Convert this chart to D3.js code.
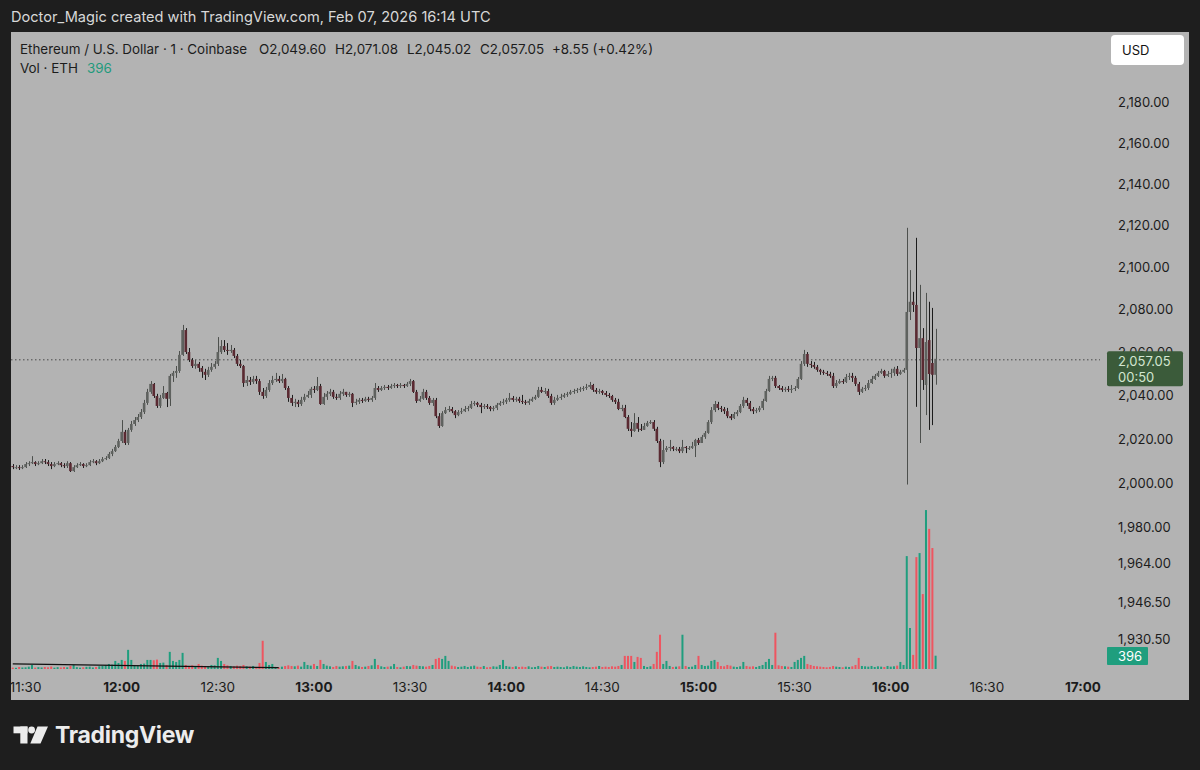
<!DOCTYPE html>
<html><head><meta charset="utf-8">
<script src="https://cdn.jsdelivr.net/npm/d3@7"></script>
<style>html,body{margin:0;padding:0;background:#1e1e1e;} svg{display:block;}</style>
</head><body><svg id="c" width="1200" height="770"></svg>
<script>
// ---------------- DATA ----------------
const startTime = "2026-02-07T11:26:00Z"; // first 1-minute candle
const opens = [
2007.7,2007.2,2007.2,2006.8,2007.2,2008.6,2009.0,2009.5,2008.6,2009.0,
2009.9,2009.5,2008.6,2007.7,2008.6,2009.0,2008.1,2007.7,2009.0,2005.4,
2007.2,2008.1,2008.6,2007.7,2008.1,2009.5,2009.9,2009.0,2009.9,2010.9,
2011.3,2013.2,2014.5,2016.4,2019.1,2023.3,2018.2,2024.2,2026.9,2028.7,
2030.1,2032.4,2036.6,2041.7,2045.4,2039.8,2035.2,2038.9,2041.2,2038.5,
2049.1,2050.5,2051.4,2058.9,2070.5,2060.2,2056.5,2053.7,2054.7,2052.8,
2051.0,2049.6,2051.9,2053.3,2054.7,2060.2,2063.0,2061.2,2060.7,2061.2,
2058.4,2054.7,2053.7,2045.8,2047.2,2046.3,2047.7,2046.7,2041.7,2039.8,
2042.6,2045.8,2047.2,2047.7,2046.7,2047.7,2043.5,2038.9,2036.6,2037.1,
2036.1,2038.0,2039.4,2040.3,2043.1,2042.6,2044.4,2036.1,2039.4,2040.8,
2041.7,2039.4,2038.9,2040.8,2041.7,2040.3,2040.8,2036.6,2037.1,2038.0,
2037.5,2038.5,2038.0,2038.9,2043.5,2042.6,2043.5,2044.0,2043.5,2044.4,
2044.9,2044.4,2044.9,2044.4,2045.4,2046.7,2041.7,2037.5,2038.5,2041.7,
2038.9,2036.6,2038.0,2030.5,2026.0,2031.9,2033.3,2033.8,2032.8,2031.0,
2032.4,2032.8,2033.8,2034.3,2036.1,2036.6,2035.7,2034.7,2035.2,2034.7,
2033.8,2034.3,2035.7,2036.6,2037.1,2038.0,2038.9,2038.0,2038.5,2037.5,
2037.1,2036.6,2037.5,2038.5,2039.4,2042.6,2041.7,2042.1,2039.8,2036.6,
2038.0,2038.9,2039.4,2040.3,2040.8,2041.7,2042.1,2042.6,2043.1,2043.5,
2044.0,2044.9,2042.6,2041.7,2042.1,2041.2,2040.3,2039.8,2038.0,2037.1,
2033.8,2034.3,2030.1,2024.7,2023.7,2027.4,2024.7,2024.2,2026.0,2027.4,
2027.8,2024.7,2019.1,2009.5,2015.0,2015.9,2016.4,2015.5,2015.5,2014.5,
2016.4,2015.9,2015.9,2016.8,2019.6,2018.2,2021.0,2022.8,2027.8,2033.3,
2036.1,2034.3,2033.8,2032.8,2030.5,2029.6,2031.5,2032.4,2035.2,2038.0,
2036.6,2033.8,2032.8,2033.3,2034.3,2037.5,2042.1,2047.7,2048.2,2044.4,
2043.5,2042.6,2043.1,2042.6,2043.1,2043.5,2047.7,2054.7,2059.3,2054.7,
2054.2,2053.3,2051.9,2051.0,2050.5,2050.0,2049.1,2044.4,2045.8,2046.7,
2046.3,2048.6,2049.1,2048.2,2045.4,2041.7,2043.1,2043.5,2045.8,2047.7,
2049.1,2050.5,2051.4,2049.1,2050.0,2050.5,2052.4,2050.0,2051.0,2051.9,
2079.0,2083.8,2082.3,2062.1,2066.7,2044.9,2065.8,2055.1,2049.60];
const highs = [
2008.6,2008.1,2008.1,2008.1,2009.5,2009.9,2012.2,2009.9,2009.9,2010.9,
2010.9,2010.4,2009.5,2009.5,2009.9,2009.5,2009.0,2009.9,2009.5,2008.1,
2009.0,2009.5,2009.0,2009.0,2010.4,2010.9,2010.4,2010.9,2011.8,2012.2,
2014.1,2015.5,2017.3,2020.1,2028.7,2024.2,2025.1,2028.3,2030.1,2031.5,
2033.8,2038.0,2043.1,2046.7,2045.8,2040.8,2040.3,2044.4,2041.7,2050.0,
2051.4,2053.7,2060.7,2072.9,2071.4,2062.1,2057.4,2056.5,2055.6,2053.7,
2052.4,2053.3,2055.1,2056.0,2067.2,2065.8,2065.8,2064.4,2063.5,2062.1,
2059.3,2056.5,2054.2,2049.1,2048.6,2049.1,2049.1,2047.7,2043.5,2044.0,
2047.2,2049.1,2050.5,2049.1,2050.0,2048.2,2044.4,2040.3,2038.5,2038.0,
2039.4,2040.8,2042.1,2044.0,2044.4,2048.6,2045.4,2041.2,2042.1,2043.1,
2042.6,2040.8,2042.1,2043.1,2041.7,2041.7,2041.2,2038.5,2038.9,2038.9,
2039.4,2039.4,2039.8,2045.8,2044.4,2044.4,2044.9,2044.9,2045.4,2045.8,
2045.4,2045.8,2045.4,2046.3,2047.7,2047.2,2042.6,2039.8,2043.1,2042.6,
2039.8,2038.9,2038.9,2031.9,2032.8,2034.7,2035.2,2034.7,2033.3,2033.3,
2034.3,2035.2,2035.2,2037.5,2037.5,2037.1,2036.6,2036.1,2036.1,2035.2,
2035.2,2036.6,2037.5,2038.5,2038.9,2041.2,2039.8,2039.4,2039.4,2040.3,
2038.0,2038.5,2039.4,2040.3,2044.0,2044.0,2043.5,2043.1,2040.8,2039.4,
2040.3,2040.8,2041.2,2041.7,2042.6,2043.1,2043.5,2044.0,2044.4,2045.4,
2046.3,2045.4,2043.5,2043.1,2042.6,2042.1,2041.2,2040.3,2038.9,2038.5,
2035.7,2035.7,2031.0,2027.8,2031.9,2030.1,2026.9,2027.4,2028.3,2028.7,
2028.7,2025.6,2020.1,2019.6,2016.8,2019.6,2016.8,2016.4,2016.4,2019.6,
2016.8,2016.8,2018.7,2020.1,2020.5,2021.9,2023.7,2028.7,2034.7,2037.5,
2037.1,2035.2,2034.7,2034.3,2031.5,2032.4,2033.3,2036.1,2039.4,2038.9,
2037.5,2034.7,2034.3,2035.2,2038.5,2043.1,2049.1,2049.1,2049.1,2044.9,
2044.4,2044.0,2044.4,2044.9,2044.4,2048.6,2056.0,2061.2,2060.2,2056.0,
2055.6,2054.2,2052.4,2051.9,2051.4,2051.0,2050.5,2047.2,2047.7,2047.7,
2050.0,2050.5,2050.5,2049.1,2046.3,2044.0,2044.9,2047.2,2049.1,2050.0,
2051.4,2052.4,2051.9,2051.4,2052.4,2053.3,2053.7,2051.9,2052.8,2119.0,
2098.8,2088.5,2114.2,2091.8,2071.4,2088.0,2083.8,2080.9,2071.08];
const lows = [
2006.3,2006.3,2005.9,2006.3,2006.8,2007.7,2008.6,2007.7,2008.1,2008.6,
2008.6,2007.7,2006.3,2007.2,2008.1,2007.2,2006.8,2006.8,2005.0,2005.0,
2006.8,2007.7,2006.8,2007.2,2007.7,2009.0,2008.1,2008.6,2009.5,2010.4,
2010.9,2012.2,2014.1,2015.9,2018.2,2017.3,2017.3,2023.3,2026.0,2027.8,
2029.2,2031.5,2035.7,2040.8,2038.9,2034.3,2034.3,2038.4,2034.7,2035.2,
2046.3,2048.2,2050.5,2058.4,2059.3,2055.6,2052.8,2052.4,2051.0,2048.2,
2047.2,2048.6,2051.0,2052.4,2053.7,2059.3,2060.2,2058.9,2059.8,2057.4,
2053.7,2052.8,2044.0,2044.4,2044.9,2045.4,2045.4,2040.3,2038.5,2038.9,
2041.7,2044.9,2046.3,2045.8,2045.8,2042.6,2037.1,2035.2,2034.7,2034.7,
2035.2,2037.1,2038.9,2038.9,2041.2,2042.1,2035.7,2035.7,2038.0,2039.8,
2038.5,2038.0,2038.0,2039.8,2039.4,2039.4,2034.7,2035.7,2036.1,2036.6,
2037.1,2037.1,2037.1,2038.0,2041.7,2042.1,2042.6,2042.6,2043.1,2043.5,
2043.5,2043.5,2043.5,2044.0,2044.4,2041.2,2036.6,2037.1,2038.0,2038.0,
2035.7,2035.2,2029.6,2025.1,2025.6,2031.5,2032.4,2031.9,2029.6,2030.5,
2031.5,2032.4,2032.8,2033.8,2035.2,2034.7,2031.9,2033.8,2033.8,2032.8,
2032.8,2033.3,2035.2,2035.7,2036.1,2037.1,2037.1,2037.1,2036.6,2036.1,
2035.7,2035.7,2037.1,2038.0,2038.9,2041.2,2040.8,2038.9,2035.7,2035.7,
2037.5,2038.0,2038.9,2039.4,2040.3,2040.8,2041.2,2041.7,2042.1,2042.6,
2043.1,2041.7,2040.8,2040.8,2040.3,2039.4,2038.9,2037.1,2036.1,2033.3,
2032.8,2029.6,2023.7,2021.0,2023.3,2023.3,2023.7,2024.2,2025.6,2026.9,
2023.7,2018.2,2007.2,2008.6,2014.1,2014.5,2014.5,2014.5,2013.6,2013.6,
2013.6,2015.0,2015.5,2011.8,2017.3,2018.2,2020.1,2022.4,2026.9,2032.4,
2033.3,2032.4,2031.5,2029.6,2028.7,2029.2,2030.5,2031.9,2034.3,2035.2,
2032.8,2031.5,2031.9,2032.4,2033.3,2037.1,2041.7,2046.7,2043.5,2042.6,
2041.7,2041.7,2041.7,2041.2,2042.1,2043.1,2047.2,2053.7,2053.3,2052.8,
2052.4,2051.0,2049.6,2049.6,2049.1,2048.2,2043.5,2043.5,2045.4,2045.4,
2045.8,2047.2,2046.3,2044.4,2040.3,2041.2,2042.1,2042.6,2045.4,2047.2,
2048.6,2050.0,2048.2,2048.6,2048.2,2049.1,2049.1,2049.6,2050.5,1999.3,
2075.2,2079.0,2034.8,2018.2,2042.6,2031.0,2024.2,2026.4,2045.02];
const closes = [
2007.2,2007.2,2006.8,2007.2,2008.6,2009.0,2009.5,2008.6,2009.0,2009.9,
2009.5,2008.6,2007.7,2008.6,2009.0,2008.1,2007.7,2009.0,2005.4,2007.2,
2008.1,2008.6,2007.7,2008.1,2009.5,2009.9,2009.0,2009.9,2010.9,2011.3,
2013.2,2014.5,2016.4,2019.1,2023.3,2018.2,2024.2,2026.9,2028.7,2030.1,
2032.4,2036.6,2041.7,2045.4,2039.8,2035.2,2038.9,2041.2,2038.5,2049.1,
2050.5,2051.4,2058.9,2070.5,2060.2,2056.5,2053.7,2054.7,2052.8,2051.0,
2049.6,2051.9,2053.3,2054.7,2060.2,2063.0,2061.2,2060.7,2061.2,2058.4,
2054.7,2053.7,2045.8,2047.2,2046.3,2047.7,2046.7,2041.7,2039.8,2042.6,
2045.8,2047.2,2047.7,2046.7,2047.7,2043.5,2038.9,2036.6,2037.1,2036.1,
2038.0,2039.4,2040.3,2043.1,2042.6,2044.4,2036.1,2039.4,2040.8,2041.7,
2039.4,2038.9,2040.8,2041.7,2040.3,2040.8,2036.6,2037.1,2038.0,2037.5,
2038.5,2038.0,2038.9,2043.5,2042.6,2043.5,2044.0,2043.5,2044.4,2044.9,
2044.4,2044.9,2044.4,2045.4,2046.7,2041.7,2037.5,2038.5,2041.7,2038.9,
2036.6,2038.0,2030.5,2026.0,2031.9,2033.3,2033.8,2032.8,2031.0,2032.4,
2032.8,2033.8,2034.3,2036.1,2036.6,2035.7,2034.7,2035.2,2034.7,2033.8,
2034.3,2035.7,2036.6,2037.1,2038.0,2038.9,2038.0,2038.5,2037.5,2037.1,
2036.6,2037.5,2038.5,2039.4,2042.6,2041.7,2042.1,2039.8,2036.6,2038.0,
2038.9,2039.4,2040.3,2040.8,2041.7,2042.1,2042.6,2043.1,2043.5,2044.0,
2044.9,2042.6,2041.7,2042.1,2041.2,2040.3,2039.8,2038.0,2037.1,2033.8,
2034.3,2030.1,2024.7,2023.7,2027.4,2024.7,2024.2,2026.0,2027.4,2027.8,
2024.7,2019.1,2009.5,2015.0,2015.9,2016.4,2015.5,2015.5,2014.5,2016.4,
2015.9,2015.9,2016.8,2019.6,2018.2,2021.0,2022.8,2027.8,2033.3,2036.1,
2034.3,2033.8,2032.8,2030.5,2029.6,2031.5,2032.4,2035.2,2038.0,2036.6,
2033.8,2032.8,2033.3,2034.3,2037.5,2042.1,2047.7,2048.2,2044.4,2043.5,
2042.6,2043.1,2042.6,2043.1,2043.5,2047.7,2054.7,2059.3,2054.7,2054.2,
2053.3,2051.9,2051.0,2050.5,2050.0,2049.1,2044.4,2045.8,2046.7,2046.3,
2048.6,2049.1,2048.2,2045.4,2041.7,2043.1,2043.5,2045.8,2047.7,2049.1,
2050.5,2051.4,2049.1,2050.0,2050.5,2052.4,2050.0,2051.0,2051.9,2079.0,
2083.8,2082.3,2062.1,2066.7,2047.2,2064.9,2050.0,2049.6,2057.05];
const volumes = [
40,35,60,45,50,70,120,40,55,45,
60,50,75,40,55,45,60,50,90,120,
55,40,50,65,70,45,60,80,90,110,
150,130,240,180,270,240,570,270,120,100,
150,160,270,270,260,280,180,190,120,510,
240,210,270,480,120,90,110,80,150,100,
90,80,120,110,330,240,150,110,90,80,
100,90,120,80,70,90,60,180,840,210,
120,150,60,50,70,90,110,90,80,100,
70,210,120,100,150,90,270,150,100,80,
60,90,70,80,90,100,240,120,80,60,
70,90,110,300,120,80,60,70,80,150,
60,50,70,90,80,120,100,90,80,70,
90,120,300,330,300,390,240,100,80,60,
70,90,60,80,100,70,60,90,50,60,
80,70,120,270,90,70,60,80,60,70,
60,80,50,60,90,70,60,80,90,60,
70,60,50,80,60,90,70,60,80,60,
50,60,70,90,60,70,60,80,70,90,
120,390,390,390,210,360,330,90,60,80,
150,510,1020,150,240,90,60,70,80,1020,
90,60,70,120,390,120,90,100,240,270,
210,90,80,120,100,70,60,80,210,90,
70,80,60,90,120,210,300,120,1080,110,
90,80,70,60,210,270,330,390,150,120,
90,80,70,60,50,60,90,70,60,50,
70,60,80,120,330,90,80,70,90,60,
80,70,60,90,70,80,100,210,120,3360,
1220,420,3330,3450,2230,4730,4170,3600,396];
const lineTimes = ["11:26","11:58","12:49"];      // black line in the volume area
const lineVolumes = [150, 110, 40];
const priceTicks = [2180,2160,2140,2120,2100,2080,2060,2040,2020,2000,1980,1964,1946.5,1930.5];
const timeTicks = ["11:30","12:00","12:30","13:00","13:30","14:00","14:30","15:00","15:30","16:00","16:30","17:00"];
const lastPrice = 2057.05, lastVolume = 396, countdown = "00:50";
const titleText = "Doctor_Magic created with TradingView.com, Feb 07, 2026 16:14 UTC";
const symbolText = "Ethereum / U.S. Dollar · 1 · Coinbase";
const ohlcTexts = ["O2,049.60","H2,071.08","L2,045.02","C2,057.05","+8.55 (+0.42%)"];

// ---------------- CHART ----------------
const FONT = "Inter, 'Noto Sans', sans-serif";
const svg = d3.select("#c");
const day = "2026-02-07T";
const toDate = s => new Date(day + s + ":00Z");
const t0 = new Date(startTime);
const candles = closes.map((c,i)=>({t:new Date(+t0 + i*60000), o:opens[i], h:highs[i], l:lows[i], c, v:volumes[i]}));

const P = {x0:11, y0:32, x1:1189, y1:700, plotR:1100};
const x = d3.scaleUtc().domain([toDate("12:00"), toDate("17:00")]).range([121.7, 1083]);
const y = d3.scaleLog().domain([2000, 2180]).range([483, 102.5]);
const yv = d3.scaleLinear().domain([0, 5000]).range([669, 669-168]);

svg.append("rect").attr("width",1200).attr("height",770).attr("fill","#1e1e1e");
svg.append("text").attr("x",11).attr("y",22).attr("fill","#d8d8d8")
  .style("font-family",FONT).style("font-size","14.6px").text(titleText);
svg.append("rect").attr("x",P.x0).attr("y",P.y0).attr("width",P.x1-P.x0).attr("height",P.y1-P.y0).attr("fill","#b3b3b3");

const defs = svg.append("defs");
defs.append("clipPath").attr("id","plot").append("rect").attr("x",P.x0).attr("y",P.y0).attr("width",P.plotR-P.x0).attr("height",P.y1-P.y0);
defs.append("clipPath").attr("id","panel").append("rect").attr("x",P.x0).attr("y",P.y0).attr("width",P.x1-P.x0).attr("height",P.y1-P.y0);

const plot = svg.append("g").attr("clip-path","url(#plot)");

// volume bars
plot.append("g").selectAll("rect").data(candles).join("rect")
  .attr("x",d=>x(d.t)-1).attr("width",2)
  .attr("y",d=>yv(d.v)).attr("height",d=>yv(0)-yv(d.v))
  .attr("fill",d=>d.c>=d.o?"#1f9e7e":"#ee5560");

// black line in volume area
plot.append("path").datum(lineTimes.map((t,i)=>[toDate(t), lineVolumes[i]]))
  .attr("d", d3.line().x(d=>x(d[0])).y(d=>yv(d[1])))
  .attr("fill","none").attr("stroke","#111").attr("stroke-width",1.2);

// dotted last price line
plot.append("line").attr("x1",P.x0).attr("x2",1107).attr("y1",y(lastPrice)+1).attr("y2",y(lastPrice)+1)
  .attr("stroke","#4a4a4a").attr("stroke-width",1).attr("stroke-dasharray","1.5,2.5");

// candles
const cg = plot.append("g");
cg.selectAll("line").data(candles).join("line")
  .attr("x1",d=>Math.round(x(d.t))+0.5).attr("x2",d=>Math.round(x(d.t))+0.5)
  .attr("y1",d=>y(d.h)).attr("y2",d=>y(d.l))
  .attr("stroke",d=>d.c>=d.o?"#4d504d":"#1c1c1c").attr("stroke-width",1);
cg.selectAll("rect").data(candles).join("rect")
  .attr("x",d=>x(d.t)-1.3).attr("width",2.6)
  .attr("y",d=>Math.min(y(d.o),y(d.c)))
  .attr("height",d=>Math.max(1, Math.abs(y(d.o)-y(d.c))))
  .attr("fill",d=>d.c>=d.o?"#5f625f":"#5a2a32");

// price axis labels (the one under the last-price badge is hidden by it, as in TradingView)
const ly = y(lastPrice);
const pa = svg.append("g");
pa.selectAll("text").data(priceTicks).join("text")
  .attr("x",1118).attr("y",d=>y(d)).attr("dy","0.35em")
  .attr("fill","#1c1c1c").style("font-family",FONT).style("font-size","13px")
  .text(d=>d3.format(",.2f")(d));

// time axis
const ta = svg.append("g").attr("clip-path","url(#panel)");
ta.selectAll("text").data(timeTicks).join("text")
  .attr("x",d=>x(toDate(d))).attr("y",687).attr("dy","0.35em").attr("text-anchor","middle")
  .attr("fill","#1c1c1c").style("font-family",FONT).style("font-size","13.5px")
  .style("font-weight",d=>d.endsWith(":00")?"700":"400").text(d=>d);

// header legend
const hdr = svg.append("text").attr("y",49).attr("dy","0.35em").attr("fill","#1c1c1c")
  .style("font-family",FONT).style("font-size","13.4px");
hdr.append("tspan").attr("x",20).text(symbolText);
const ohlcX = [259,335,407,480,552];
ohlcTexts.forEach((s,i)=>hdr.append("tspan").attr("x",ohlcX[i]).text(s));
const vl = svg.append("text").attr("y",68).attr("dy","0.35em").style("font-family",FONT).style("font-size","13.4px");
vl.append("tspan").attr("x",20).attr("fill","#1c1c1c").text("Vol · ETH");
vl.append("tspan").attr("x",87).attr("fill","#1f9a7c").text(String(lastVolume));

// USD box
svg.append("rect").attr("x",1111).attr("y",35).attr("width",73).attr("height",30).attr("rx",4).attr("fill","#ffffff");
svg.append("text").attr("x",1122).attr("y",50).attr("dy","0.35em").attr("fill","#131313")
  .style("font-family",FONT).style("font-size","13px").text("USD");

// last price label
svg.append("rect").attr("x",1107).attr("y",ly-7.5).attr("width",76).attr("height",35).attr("rx",2).attr("fill","#3b5b3a");
svg.append("text").attr("x",1118).attr("y",ly+3).attr("dy","0.35em").attr("fill","#d3e6d0")
  .style("font-family",FONT).style("font-size","13px").text(d3.format(",.2f")(lastPrice));
svg.append("text").attr("x",1118).attr("y",ly+19).attr("dy","0.35em").attr("fill","#d3e6d0")
  .style("font-family",FONT).style("font-size","13px").text(countdown);

// last volume label
svg.append("rect").attr("x",1107).attr("y",647).attr("width",41).attr("height",18).attr("rx",1).attr("fill","#1f9e7e");
svg.append("text").attr("x",1118).attr("y",656).attr("dy","0.35em").attr("fill","#ffffff")
  .style("font-family",FONT).style("font-size","13px").text(String(lastVolume));

// logo
const lg = svg.append("g").attr("fill","#ececec");
lg.append("rect").attr("x",13.5).attr("y",726.5).attr("width",14).attr("height",6.8);
lg.append("rect").attr("x",20.3).attr("y",726.5).attr("width",7.2).attr("height",17);
lg.append("circle").attr("cx",31.6).attr("cy",730).attr("r",3.4);
lg.append("path").attr("d","M37.5,726.5 L48,726.5 L40.5,743.5 L30.3,743.5 Z");
svg.append("text").attr("x",55).attr("y",743).attr("fill","#ececec")
  .style("font-family",FONT).style("font-size","23px").style("font-weight","700")
  .style("letter-spacing","-0.3px").text("TradingView");
</script></body></html>
